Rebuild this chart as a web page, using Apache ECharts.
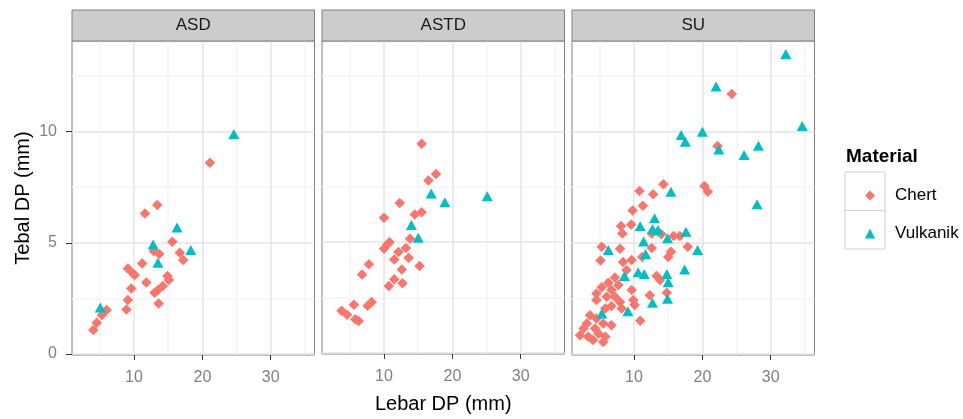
<!DOCTYPE html>
<html>
<head>
<meta charset="utf-8">
<script src="https://cdn.jsdelivr.net/npm/echarts@6/dist/echarts.min.js"></script>
<style>
  html, body { margin: 0; padding: 0; background: #fff; }
  #main { width: 963px; height: 419px; }
</style>
</head>
<body>
<div id="main"></div>
<script>
// facets and materials
var facets = ["ASD", "ASTD", "SU"];
var materials = ["Chert", "Vulkanik"];

// [Lebar DP, Tebal DP] per facet and material
var asdChert = [[21.1,8.6],[13.4,6.7],[11.6,6.32],[15.6,5.05],[12.9,4.62],[13.7,4.49],[16.7,4.55],[17.2,4.22],
  [11.2,4.07],[9.1,3.84],[9.85,3.62],[10.1,3.55],[14.9,3.5],[11.8,3.21],[15.1,3.32],[14.2,3.05],[13.5,2.87],
  [13.0,2.75],[9.6,2.94],[9.1,2.42],[8.9,2.0],[13.6,2.27],[6.0,1.98],[5.3,1.75],[4.55,1.4],[4.05,1.08]];
var asdVulkanik = [[24.6,9.9],[16.3,5.69],[12.8,4.92],[18.3,4.67],[13.5,4.1],[5.07,2.09]];

var astdChert = [[15.5,9.44],[17.6,8.08],[16.5,7.78],[12.3,6.77],[10.0,6.1],[14.5,6.25],[15.5,6.35],[13.8,5.15],
  [10.5,4.9],[10.0,4.7],[10.8,5.0],[13.2,4.74],[12.1,4.55],[13.6,4.3],[11.5,4.22],[7.8,4.0],[15.2,3.92],
  [12.6,3.77],[6.8,3.54],[11.5,3.32],[12.7,3.14],[10.7,3.02],[8.2,2.3],[7.6,2.13],[5.6,2.17],[3.8,1.9],
  [4.6,1.72],[5.8,1.52],[6.3,1.44]];
var astdVulkanik = [[16.9,7.19],[18.9,6.8],[25.1,7.07],[14.0,5.77],[15.0,5.2]];

var suChert = [[24.3,11.7],[22.2,9.35],[14.3,7.63],[10.8,7.33],[12.8,7.18],[20.3,7.55],[20.8,7.3],[11.3,6.67],
  [9.8,6.45],[8.1,5.75],[9.6,5.82],[8.3,5.42],[12.6,5.42],[13.5,5.5],[14.0,5.38],[15.8,5.3],[16.7,5.3],
  [17.85,4.82],[5.27,4.82],[7.95,4.73],[12.6,4.76],[15.4,4.6],[15.0,4.36],[5.1,4.2],[8.4,4.14],[9.66,4.22],
  [11.2,4.36],[8.9,3.77],[13.3,3.5],[13.8,3.32],[7.2,3.44],[6.24,3.2],[5.27,3.0],[4.5,2.72],[7.7,3.1],
  [6.7,2.87],[6.0,2.57],[7.2,2.57],[7.95,2.34],[6.7,2.15],[9.66,2.87],[9.9,2.42],[10.1,2.2],[4.5,2.42],
  [5.8,2.04],[8.2,2.04],[12.3,2.64],[14.8,2.75],[10.9,1.49],[3.56,1.74],[4.5,1.59],[3.1,1.37],[5.5,1.37],
  [6.7,1.29],[4.3,1.14],[2.6,1.14],[2.1,0.84],[3.3,0.77],[4.8,0.92],[5.8,0.77],[4.0,0.62],[5.5,0.54]];
var suVulkanik = [[32.2,13.5],[22.0,12.03],[34.6,10.26],[16.9,9.85],[17.5,9.55],[20.0,10.0],[22.4,9.2],
  [28.2,9.37],[26.1,8.95],[15.4,7.3],[28.0,6.73],[13.0,6.1],[10.9,5.75],[12.7,5.62],[13.5,5.57],[17.6,5.5],
  [14.9,5.2],[11.4,5.06],[6.24,4.67],[19.3,4.68],[11.7,4.5],[17.4,3.8],[10.6,3.67],[11.5,3.6],[14.8,3.59],
  [8.6,3.5],[15.0,3.22],[14.9,2.48],[12.7,2.3],[9.1,1.92],[5.3,1.82]];

var facetData = [[asdChert, asdVulkanik], [astdChert, astdVulkanik], [suChert, suVulkanik]];

// axis ticks and grid lines
var xMajor = [10, 20, 30];
var xMinor = [5, 15, 25, 35];
var yMajor = [0, 5, 10];
var yMinor = [2.5, 7.5, 12.5];

var colors = ["#F8766D", "#00BFC4"];
var symbols = ["diamond", "triangle"];
var symbolSizes = [10.5, [11, 10]];

var FONT = "Liberation Sans";
var panelLeft = [72, 322, 572];
var panelWidth = 242.5;
var panelTop = 41;
var panelHeight = 314;

var grids = [], xAxes = [], yAxes = [], series = [], graphics = [];

var majorLine = { color: "#e5e5e5", width: 1.5, type: "solid" };
var minorLine = { color: "#f5f5f5", width: 1.5, type: "solid" };

facets.forEach(function (f, i) {
  grids.push({
    left: panelLeft[i], top: panelTop, width: panelWidth, height: panelHeight,
    show: true, borderColor: "#808080", borderWidth: 1, backgroundColor: "#fff"
  });
  xAxes.push({
    type: "value", gridIndex: i, min: 0.93, max: 36.4,
    axisLine: { show: false },
    axisTick: { show: true, customValues: xMajor, length: 6, lineStyle: { color: "#333" } },
    axisLabel: { customValues: xMajor, margin: 15, color: "#7f7f7f", fontSize: 16, fontFamily: FONT },
    splitLine: { show: false },
    name: i === 1 ? "Lebar DP (mm)" : "",
    nameLocation: "middle", nameGap: 40,
    nameTextStyle: { fontSize: 20, color: "#000", fontFamily: FONT }
  });
  yAxes.push({
    type: "value", gridIndex: i, min: -0.05, max: 14.08,
    axisLine: { show: false },
    axisTick: { show: i === 0, customValues: yMajor, length: 6, lineStyle: { color: "#333" } },
    axisLabel: { show: i === 0, customValues: yMajor, margin: 15, color: "#7f7f7f", fontSize: 16, fontFamily: FONT },
    splitLine: { show: false },
    name: i === 0 ? "Tebal DP (mm)" : "",
    nameLocation: "middle", nameGap: 39,
    nameTextStyle: { fontSize: 20, color: "#000", fontFamily: FONT }
  });

  var lines = [];
  xMinor.forEach(function (v) { lines.push({ xAxis: v, lineStyle: minorLine }); });
  yMinor.forEach(function (v) { lines.push({ yAxis: v, lineStyle: minorLine }); });
  xMajor.forEach(function (v) { lines.push({ xAxis: v, lineStyle: majorLine }); });
  yMajor.forEach(function (v) { lines.push({ yAxis: v, lineStyle: majorLine }); });
  series.push({
    type: "scatter", name: "grid" + i, xAxisIndex: i, yAxisIndex: i, data: [], silent: true,
    markLine: {
      silent: true, symbol: "none", animation: false, z: 1,
      label: { show: false }, emphasis: { disabled: true },
      data: lines
    }
  });

  materials.forEach(function (m, j) {
    series.push({
      type: "scatter", name: m, xAxisIndex: i, yAxisIndex: i,
      data: facetData[i][j],
      symbol: symbols[j], symbolSize: symbolSizes[j],
      itemStyle: { color: colors[j], opacity: 1 },
      z: 3, animation: false
    });
  });

  // facet strip
  graphics.push({
    type: "rect", shape: { x: panelLeft[i], y: 10, width: panelWidth, height: 31 },
    style: { fill: "#cccccc", stroke: "#808080", lineWidth: 1 }, z: 10
  });
  graphics.push({
    type: "text", x: panelLeft[i] + panelWidth / 2, y: 25.5,
    style: { text: f, font: "17px " + FONT, fill: "#1a1a1a", textAlign: "center", textVerticalAlign: "middle" },
    z: 11
  });
});

// legend title and key boxes
graphics.push({
  type: "text", x: 846, y: 157,
  style: { text: "Material", font: "bold 19px " + FONT, fill: "#000", textVerticalAlign: "middle" }
});
[172, 210.5].forEach(function (y) {
  graphics.push({
    type: "rect", shape: { x: 845, y: y, width: 40, height: 38.5 },
    style: { fill: "#fff", stroke: "#d0d0d0", lineWidth: 1 }
  });
});

var chart = echarts.init(document.getElementById("main"), null, { renderer: "canvas" });
chart.setOption({
  animation: false,
  backgroundColor: "#fff",
  grid: grids,
  xAxis: xAxes,
  yAxis: yAxes,
  legend: {
    data: [{ name: "Chert", icon: "diamond" }, { name: "Vulkanik", icon: "triangle" }],
    orient: "vertical", left: 860, top: 182,
    itemWidth: 10, itemHeight: 10, itemGap: 21,
    selectedMode: false,
    formatter: "{t|{name}}",
    textStyle: {
      fontSize: 17, lineHeight: 17, color: "#000", fontFamily: FONT,
      rich: { t: { fontSize: 17, lineHeight: 17, color: "#000", fontFamily: FONT, padding: [0, 0, 0, 15] } }
    }
  },
  graphic: graphics,
  series: series
});
</script>
</body>
</html>
